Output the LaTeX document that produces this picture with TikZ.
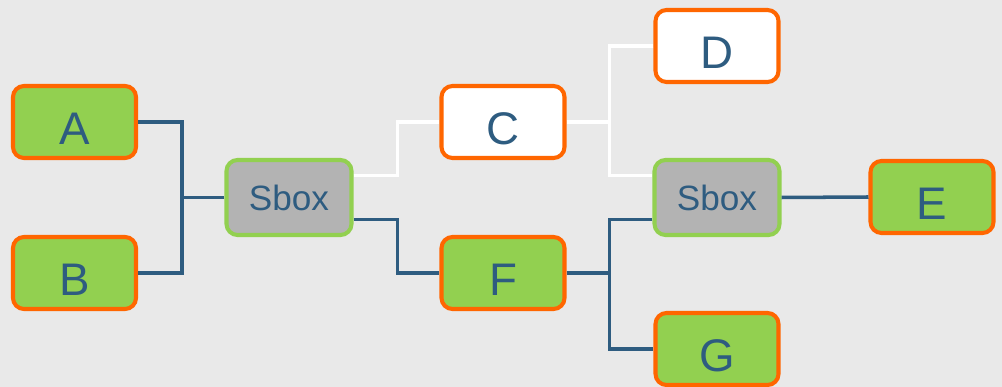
\documentclass[tikz,border=0pt]{standalone}
\usepackage{fontspec}
\setmainfont{Liberation Sans}
\definecolor{bgGray}{HTML}{E9E9E9}
\definecolor{leafGreen}{HTML}{92D050}
\definecolor{rimOrange}{HTML}{FF6600}
\definecolor{inkBlue}{HTML}{2E5C80}
\definecolor{boxGray}{HTML}{B3B3B3}

\begin{document}
\begin{tikzpicture}[
    every node/.style={font=\fontsize{26}{30}\selectfont, text=inkBlue},
    tile/.style={draw=rimOrange, fill=leafGreen, line width=2.3pt, rounded corners=0.22cm,
                 minimum width=2.46cm, minimum height=1.44cm},
    leaf/.style={tile, text height=0.92cm, text depth=0pt},
    open/.style={leaf, fill=white},
    sbox/.style={tile, draw=leafGreen, fill=boxGray, minimum width=2.5cm, minimum height=1.5cm,
                 font=\fontsize{20}{24}\selectfont},
    wire/.style={inkBlue, line width=2pt},
    blank/.style={white, line width=2pt}]
        \fill[bgGray] (0,0) rectangle (20.04,7.74);
        \useasboundingbox (0,0) rectangle (20.04,7.74);
        \node[leaf] (A) at (1.49,5.30) {A};
        \node[leaf] (B) at (1.49,2.28) {B};
        \node[sbox] (sa) at (5.78,3.79) {Sbox};
        \node[open] (C) at (10.06,5.30) {C};
        \node[leaf] (F) at (10.06,2.28) {F};
        \node[open] (D) at (14.34,6.82) {D};
        \node[sbox] (sb) at (14.34,3.79) {Sbox};
        \node[leaf] (E) at (18.64,3.80) {E};
        \node[leaf] (G) at (14.34,0.76) {G};
        % A and B join into the first Sbox
        \draw[wire] (A.east) -- ++(0.88,0) |- (B.east);
        \draw[wire] (sa.west) -- ++(-0.84,0);
        % first Sbox splits to C and F
        \draw[blank] ([yshift=4.4mm]sa.east) -- ++(0.88,0) |- (C.west);
        \draw[wire] ([yshift=-4.4mm]sa.east) -- ++(0.88,0) |- (F.west);
        % C feeds D and the second Sbox
        \draw[blank] (C.east) -- ++(0.86,0) coordinate (cj);
        \draw[blank] (D.west) -| (cj) |- ([yshift=4.4mm]sb.west);
        % F feeds G and the second Sbox
        \draw[wire] (F.east) -- ++(0.86,0) coordinate (fj);
        \draw[wire] ([yshift=-4.4mm]sb.west) -| (fj) |- (G.west);
        \draw[wire] (sb.east) -- (E.west);
      \end{tikzpicture}
\end{document}
